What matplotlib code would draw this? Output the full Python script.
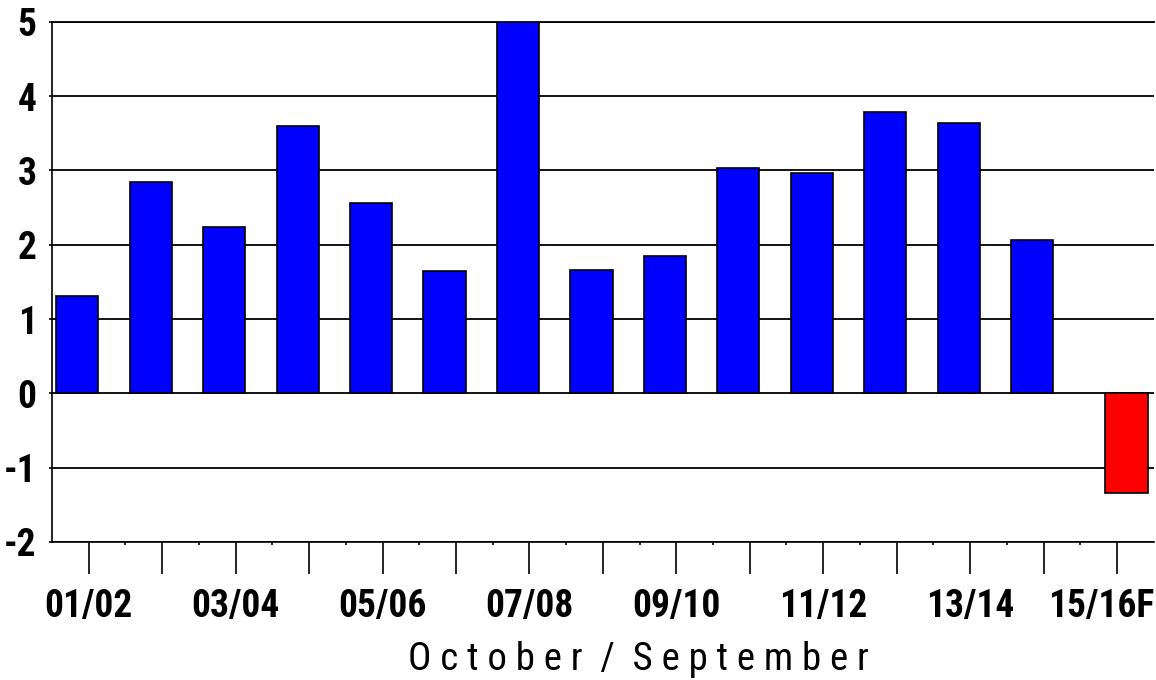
import matplotlib.pyplot as plt
from matplotlib import font_manager
from matplotlib.transforms import ScaledTranslation
import numpy as np

# season labels (Oct/Sep), last one is a forecast
seasons = ["01/02", "02/03", "03/04", "04/05", "05/06", "06/07", "07/08",
           "08/09", "09/10", "10/11", "11/12", "12/13", "13/14", "14/15", "15/16F"]
actual = [1.31, 2.85, 2.24, 3.60, 2.56, 1.64, 5.00,
          1.66, 1.85, 3.03, 2.97, 3.79, 3.64, 2.07]
forecast = [-1.34]

# prefer a narrow face if one is around, otherwise Arial-like Liberation Sans
have = {f.name for f in font_manager.fontManager.ttflist}
narrow = [n for n in ['Liberation Sans Narrow', 'Roboto Condensed', 'Open Sans Condensed']
          if n in have]
if narrow:
    face, tick_size, label_size = narrow[0], 27, 28
else:
    face, tick_size, label_size = 'Liberation Sans', 24, 24
fam = [face, 'DejaVu Sans']

fig = plt.figure(figsize=(11.56, 6.8), dpi=100)
ax = fig.add_axes([0.045, 0.203, 0.953, 0.765])

x = np.arange(len(seasons))
ax.bar(x[:len(actual)] - 0.155, actual, width=0.575, color='#0000FF',
       edgecolor='black', linewidth=1.2, zorder=3)
ax.bar(x[len(actual):] + 0.13, forecast, width=0.575, color='#FF0000',
       edgecolor='black', linewidth=1.2, zorder=3)

ax.set_xlim(-0.5, len(seasons) - 0.5)
ax.set_ylim(-2, 5)
ax.set_yticks(range(-2, 6))
ax.set_yticklabels([str(v) for v in range(-2, 6)], fontsize=tick_size,
                   fontweight='bold', family=fam)

ax.set_xticks(x)
ax.set_xticklabels([s if i % 2 == 0 else "" for i, s in enumerate(seasons)],
                   fontsize=tick_size, fontweight='bold', family=fam)
ax.set_xticks(x[:-1] + 0.5, minor=True)
ax.tick_params(axis='x', which='major', length=23, width=1.2, pad=10)
ax.tick_params(axis='x', which='minor', length=2, width=1.2)
ax.tick_params(axis='y', length=2, width=1.2, pad=9)

# last label is pulled left so it stays inside the figure
last = ax.get_xticklabels()[-1]
last.set_transform(last.get_transform() + ScaledTranslation(-16 / 100, 0, fig.dpi_scale_trans))

ax.grid(axis='y', color='black', linewidth=1.3, zorder=0)
ax.set_axisbelow(True)
ax.spines['right'].set_visible(False)
ax.spines['top'].set_linewidth(1.3)
ax.spines['left'].set_linewidth(1.2)
ax.spines['bottom'].set_linewidth(1.2)

ax.set_xlabel("O c t o b e r  /  S e p t e m b e r", fontsize=label_size,
              family=fam, va='center')
ax.xaxis.set_label_coords(0.532, -0.226)

fig.savefig("out.png", dpi=100)
